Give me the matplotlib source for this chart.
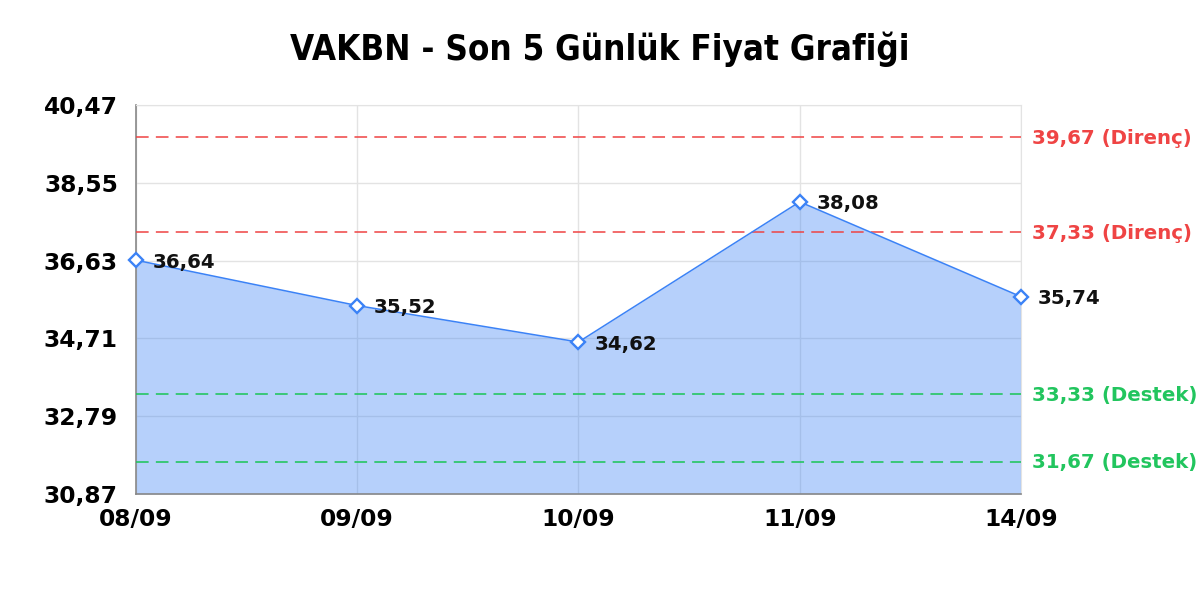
import numpy as np
import matplotlib.pyplot as plt

plt.rcParams["font.family"] = ["DejaVu Sans"]

# data
dates = ["08/09", "09/09", "10/09", "11/09", "14/09"]
prices = [36.64, 35.52, 34.62, 38.08, 35.74]
resistance = [39.67, 37.33]
support = [33.33, 31.67]
y_min, y_max = 30.87, 40.47

line_color = "#3b82f6"
red = "#ef4444"
green = "#22c55e"


def tr(v):
    return f"{v:.2f}".replace(".", ",")


fig = plt.figure(figsize=(12, 6), dpi=100)
ax = fig.add_axes([0.1133, 0.1767, 0.7375, 0.6483])

x = np.arange(len(dates))
ax.fill_between(x, prices, y_min, color=line_color, alpha=0.37, linewidth=0, zorder=2)
ax.plot(x, prices, color=line_color, linewidth=1.1, marker="D", markersize=7,
        markerfacecolor="white", markeredgecolor=line_color, markeredgewidth=1.7,
        zorder=4, clip_on=False)

for xi, p in zip(x, prices):
    ax.annotate(tr(p), (xi, p), xytext=(12, -1.5), textcoords="offset points",
                ha="left", va="center", fontsize=14.2, fontweight="bold",
                color="#111111", zorder=5, annotation_clip=False)

for lvl in resistance:
    ax.axhline(lvl, color=red, alpha=0.85, linewidth=1.3, dashes=(7, 4), zorder=3)
    ax.annotate(f"{tr(lvl)} (Direnç)", xy=(1, lvl), xycoords=("axes fraction", "data"),
                xytext=(8, -1), textcoords="offset points", ha="left", va="center",
                fontsize=14.2, fontweight="bold", color=red)
for lvl in support:
    ax.axhline(lvl, color=green, alpha=0.9, linewidth=1.3, dashes=(7, 4), zorder=3)
    ax.annotate(f"{tr(lvl)} (Destek)", xy=(1, lvl), xycoords=("axes fraction", "data"),
                xytext=(8, -1), textcoords="offset points", ha="left", va="center",
                fontsize=14.2, fontweight="bold", color=green)

ax.set_xlim(0, len(dates) - 1)
ax.set_ylim(y_min, y_max)
yt = np.linspace(y_min, y_max, 6)
ax.set_yticks(yt)
ax.set_yticklabels([tr(v) for v in yt])
ax.set_xticks(x)
ax.set_xticklabels(dates)
ax.tick_params(axis="y", length=0, pad=13, labelsize=16.8)
ax.tick_params(axis="x", length=0, pad=10, labelsize=16.8)
for lab in ax.get_xticklabels() + ax.get_yticklabels():
    lab.set_fontweight("bold")

ax.grid(True, color="#e3e3e3", linewidth=1, zorder=1)
ax.set_axisbelow(True)
for s in ["top", "right"]:
    ax.spines[s].set_color("#e3e3e3")
for s in ["left", "bottom"]:
    ax.spines[s].set_color("#888888")
    ax.spines[s].set_linewidth(1.2)

fig.text(0.5, 0.918, "VAKBN - Son 5 Günlük Fiyat Grafiği", ha="center", va="center",
         fontsize=25, fontweight="bold", family="DejaVu Sans", stretch="condensed")

fig.savefig("out.png", dpi=100)
